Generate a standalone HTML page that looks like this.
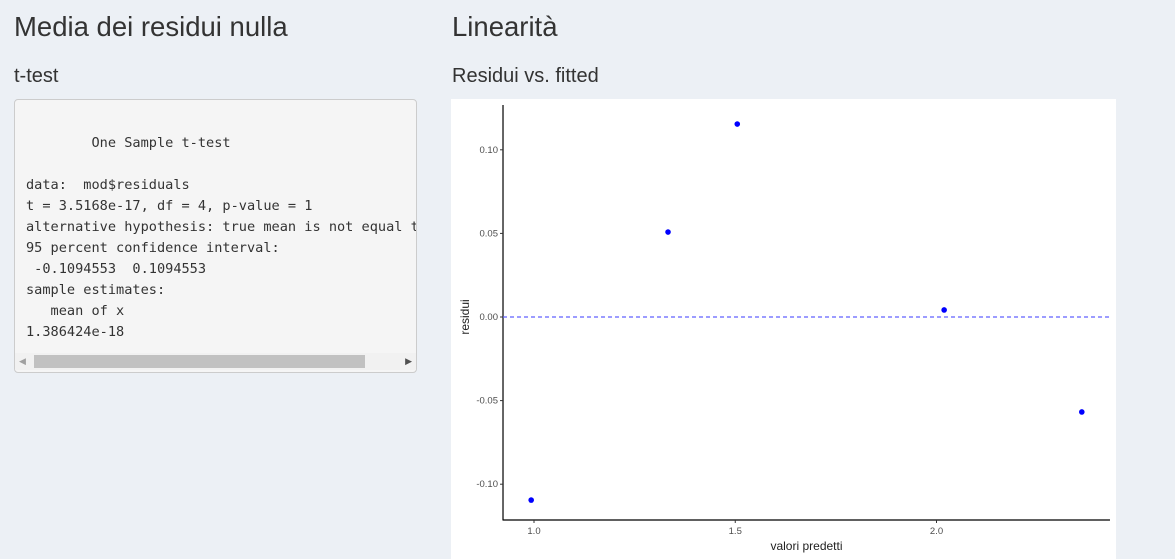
<!DOCTYPE html>
<html><head><meta charset="utf-8"><style>
body{margin:0;width:1175px;height:559px;background:#ecf0f5;font-family:"Liberation Sans",sans-serif;color:#333;overflow:hidden;position:relative}
h1{position:absolute;margin:0;font-weight:400;font-size:27.5px;top:11px}
h2{position:absolute;margin:0;font-weight:400;font-size:20px;top:65px}
pre{position:absolute;left:14px;top:99px;width:403px;height:274px;margin:0;background:#f5f5f5;border:1px solid #ccc;border-radius:4px;font-family:"DejaVu Sans Mono",monospace;font-size:13.6px;line-height:21px;color:#333;overflow:hidden;box-sizing:border-box;padding:33px 0 0 11px;white-space:pre}
.sb{position:absolute;left:15px;top:353px;width:401px;height:17px;background:#f1f1f1}
.thumb{position:absolute;left:19px;top:2px;width:331px;height:13px;background:#c1c1c1}
</style></head><body>
<h1 style="left:14px">Media dei residui nulla</h1>
<h1 style="left:452px">Linearità</h1>
<h2 style="left:14px">t-test</h2>
<h2 style="left:452px">Residui vs. fitted</h2>
<pre>
        One Sample t-test

data:  mod$residuals
t = 3.5168e-17, df = 4, p-value = 1
alternative hypothesis: true mean is not equal to 0
95 percent confidence interval:
 -0.1094553  0.1094553
sample estimates:
   mean of x
1.386424e-18</pre>
<div class="sb"><div class="thumb"></div>
<span style="position:absolute;left:4px;top:3px;font-size:9px;color:#a0a0a0">◀</span><span style="position:absolute;right:4px;top:3px;font-size:9px;color:#505050">▶</span></div>
<svg id="chart" width="665" height="460" style="position:absolute;left:451px;top:99px;background:#fff"></svg>
<script>
const xVals=[0.993,1.333,1.505,2.019,2.361];
const yVals=[-0.1095,0.0508,0.1154,0.0042,-0.0568];
const xTicks=[1.0,1.5,2.0];
const xTickLabels=["1.0","1.5","2.0"];
const yTicks=[-0.10,-0.05,0.00,0.05,0.10];
const yTickLabels=["-0.10","-0.05","0.00","0.05","0.10"];
const OX=451,OY=99;
function sx(v){return 534+(v-1)*402.5-OX;}
function sy(v){return 317-v*1672-OY;}
const svg=document.getElementById('chart');
const NS='http://www.w3.org/2000/svg';
function mk(t,a){const e=document.createElementNS(NS,t);for(const k in a)e.setAttribute(k,a[k]);svg.appendChild(e);return e;}
const L=sx(0.923),R=sx(2.431),B=sy(-0.1214),T=sy(0.1268);
let ax=mk('line',{x1:L,y1:T,x2:L,y2:B+0.5,stroke:'#000','stroke-width':1.2});

let bx=mk('line',{x1:L,y1:B,x2:R,y2:B,stroke:'#000','stroke-width':1.2});

yTicks.forEach((v,i)=>{
 let t=mk('line',{x1:L-3,x2:L,y1:sy(v),y2:sy(v),stroke:'#333'});
 
 let tx=mk('text',{x:L-5,y:sy(v)+3,'text-anchor':'end','font-size':9.5,fill:'#4d4d4d','font-family':'Liberation Sans'});
 
 tx.textContent=yTickLabels[i];
});
xTicks.forEach((v,i)=>{
 let t=mk('line',{x1:sx(v),x2:sx(v),y1:B,y2:B+3,stroke:'#333'});
 
 let tx=mk('text',{x:sx(v),y:B+14,'text-anchor':'middle','font-size':9.5,fill:'#4d4d4d','font-family':'Liberation Sans'});
 
 tx.textContent=xTickLabels[i];
});
let zl=mk('line',{x1:L,x2:R,y1:sy(0),y2:sy(0),stroke:'#6060ff','stroke-width':1.3,'stroke-dasharray':'4 3'});

xVals.forEach((x,i)=>{
 let c=mk('circle',{cx:sx(x),cy:sy(yVals[i]),r:2.8,fill:'#0000ff'});
 
});
let xt=mk('text',{x:(L+R)/2,y:451,'text-anchor':'middle','font-size':12,fill:'#222','font-family':'Liberation Sans'});
xt.textContent='valori predetti';
let yt=mk('text',{x:0,y:0,'text-anchor':'middle','font-size':12,fill:'#222','font-family':'Liberation Sans',transform:`translate(18,${sy(0)}) rotate(-90)`});
yt.textContent='residui';
</script>
</body></html>
